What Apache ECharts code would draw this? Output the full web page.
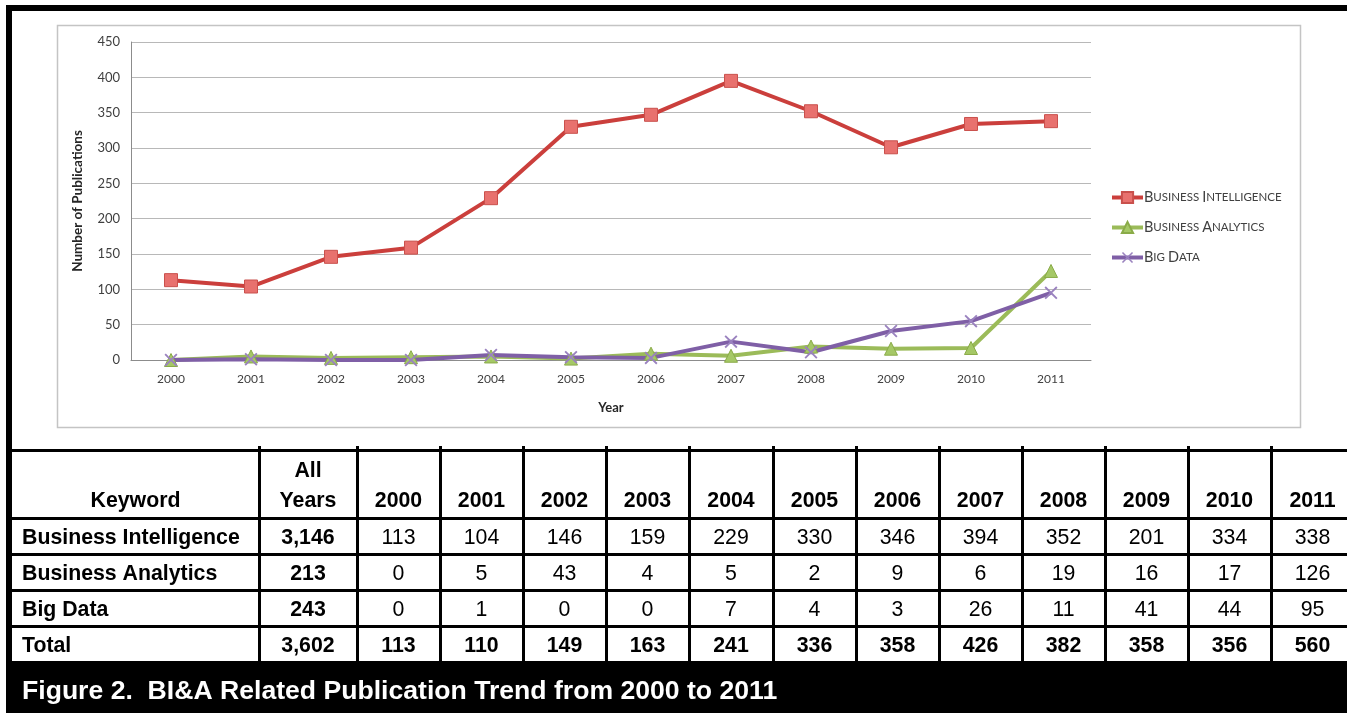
<!DOCTYPE html>
<html>
<head>
<meta charset="utf-8">
<script src="https://cdn.jsdelivr.net/npm/echarts@6/dist/echarts.min.js"></script>
<style>
html,body{margin:0;padding:0;background:#fff}
#main{width:1347px;height:713px}
</style>
</head>
<body>
<div id="main"></div>
<script>
var years = ['2000','2001','2002','2003','2004','2005','2006','2007','2008','2009','2010','2011'];

// values as the chart draws them
var biLine = [113, 104, 146, 159, 229, 330, 347, 395, 352, 301, 334, 338];
var baLine = [0, 5, 3, 4, 5, 2, 9, 6, 19, 16, 17, 126];
var bdLine = [0, 1, 0, 0, 7, 4, 3, 26, 11, 41, 55, 95];

// values as the table prints them
var keywords = ['Business Intelligence', 'Business Analytics', 'Big Data', 'Total'];
var allYears = ['3,146', '213', '243', '3,602'];
var biRow = [113, 104, 146, 159, 229, 330, 346, 394, 352, 201, 334, 338];
var baRow = [0, 5, 43, 4, 5, 2, 9, 6, 19, 16, 17, 126];
var bdRow = [0, 1, 0, 0, 7, 4, 3, 26, 11, 41, 44, 95];
var totalRow = [113, 110, 149, 163, 241, 336, 358, 426, 382, 358, 356, 560];

var caption = 'Figure 2.  BI&A Related Publication Trend from 2000 to 2011';

var myChart = echarts.init(document.getElementById('main'));

// excel style small caps for the legend
function smallCaps(s) {
	return s.split(' ').map(function (w) {
		return '{a|' + w.charAt(0) + '}{b|' + w.slice(1).toUpperCase() + '}';
	}).join('{b| }');
}

var xMark = 'path://M0,1L1,0L5,4L9,0L10,1L6,5L10,9L9,10L5,6L1,10L0,9L4,5Z';

// table layout
var colX = [12, 259, 357];
for (var i = 0; i < years.length; i++) colX.push(Math.round(357 + 83.1 * (i + 1)));
var rowY = [450, 518, 554, 590, 626, 661];
var tFont = '21.3px "Liberation Sans", Arial, sans-serif';
var tBold = 'bold 21.3px "Liberation Sans", Arial, sans-serif';

var g = [];
// outer black frame
g.push({type: 'rect', shape: {x: 6, y: 5, width: 1341, height: 6}, style: {fill: '#000'}});
g.push({type: 'rect', shape: {x: 6, y: 5, width: 6, height: 708}, style: {fill: '#000'}});
g.push({type: 'rect', shape: {x: 6, y: 661, width: 1341, height: 52}, style: {fill: '#000'}});
// chart area border
g.push({type: 'rect', shape: {x: 57.5, y: 25.5, width: 1243, height: 402}, style: {fill: 'none', stroke: '#c4c4c4', lineWidth: 1.5}});
// table lines
for (var r = 0; r < rowY.length - 1; r++) {
	g.push({type: 'rect', shape: {x: 12, y: rowY[r] - 1, width: 1335, height: 3}, style: {fill: '#000'}});
}
for (var c = 1; c < colX.length; c++) {
	g.push({type: 'rect', shape: {x: colX[c] - 1, y: 446, width: 3, height: 215}, style: {fill: '#000'}});
}
function cell(txt, cx, cy, bold, align) {
	g.push({type: 'text', style: {text: String(txt), x: cx, y: cy, font: bold ? tBold : tFont, fill: '#000',
		textAlign: align || 'center', textVerticalAlign: 'middle'}});
}
// header
cell('Keyword', (colX[0] + colX[1]) / 2, 501, true);
cell('All', (colX[1] + colX[2]) / 2, 471, true);
cell('Years', (colX[1] + colX[2]) / 2, 501, true);
for (var k = 0; k < years.length; k++) {
	var right = k + 3 < colX.length ? colX[k + 3] : 1353;
	cell(years[k], (colX[k + 2] + right) / 2, 501, true);
}
var rows = [biRow, baRow, bdRow, totalRow];
for (var r2 = 0; r2 < rows.length; r2++) {
	var cy = (rowY[r2 + 1] + rowY[r2 + 2]) / 2 + 2.5;
	cell(keywords[r2], 22, cy, true, 'left');
	cell(allYears[r2], (colX[1] + colX[2]) / 2, cy, true);
	for (var k2 = 0; k2 < years.length; k2++) {
		var rr = k2 + 3 < colX.length ? colX[k2 + 3] : 1353;
		cell(rows[r2][k2], (colX[k2 + 2] + rr) / 2, cy, r2 === 3);
	}
}
// caption
g.push({type: 'text', style: {text: caption, x: 22, y: 692, font: 'bold 26.6px "Liberation Sans", Arial, sans-serif',
	fill: '#fff', textAlign: 'left', textVerticalAlign: 'middle'}});

var lato = 'Lato, "Open Sans", sans-serif';

var opt = {
	backgroundColor: '#fff',
	animation: false,
	grid: {left: 131, right: 256, top: 42, bottom: 353},
	legend: {
		orient: 'vertical',
		left: 1105,
		top: 185,
		itemWidth: 31,
		itemHeight: 14,
		itemGap: 15,
		lineStyle: {width: 4},
		formatter: function (name) { return smallCaps(name); },
		textStyle: {
			padding: [0, 0, 0, -4],
			rich: {
				a: {fontSize: 14.5, color: '#404040', fontFamily: lato, lineHeight: 14},
				b: {fontSize: 11.5, color: '#404040', fontFamily: lato, lineHeight: 14}
			}
		},
		data: ['Business Intelligence', 'Business Analytics', 'Big Data']
	},
	xAxis: {
		type: 'category',
		data: years,
		boundaryGap: true,
		name: 'Year',
		nameLocation: 'middle',
		nameGap: 41,
		nameTextStyle: {fontFamily: lato, fontWeight: 'bold', fontSize: 13, color: '#262626'},
		axisLine: {lineStyle: {color: '#8c8c8c'}},
		axisTick: {show: false},
		axisLabel: {fontFamily: lato, fontSize: 12, color: '#404040', margin: 13}
	},
	yAxis: {
		type: 'value',
		min: 0,
		max: 450,
		interval: 50,
		name: 'Number of Publications',
		nameLocation: 'middle',
		nameGap: 46,
		nameTextStyle: {fontFamily: lato, fontWeight: 'bold', fontSize: 13.5, color: '#262626'},
		axisLine: {show: true, lineStyle: {color: '#8c8c8c'}},
		axisTick: {show: false},
		axisLabel: {fontFamily: lato, fontSize: 13, color: '#404040', margin: 11},
		splitLine: {lineStyle: {color: '#b8b8b8', width: 1}}
	},
	graphic: {elements: g},
	series: [
		{
			name: 'Business Intelligence',
			type: 'line',
			data: biLine,
			symbol: 'rect',
			symbolSize: 13,
			showAllSymbol: true,
			lineStyle: {color: '#cb3f3c', width: 4},
			itemStyle: {color: '#e8716e', borderColor: '#c9504c', borderWidth: 1}
		},
		{
			name: 'Business Analytics',
			type: 'line',
			data: baLine,
			symbol: 'triangle',
			symbolSize: 13,
			showAllSymbol: true,
			lineStyle: {color: '#9bbb59', width: 4},
			itemStyle: {color: '#a5c866', borderColor: '#8aab48', borderWidth: 1}
		},
		{
			name: 'Big Data',
			type: 'line',
			data: bdLine,
			symbol: xMark,
			symbolSize: 13,
			showAllSymbol: true,
			lineStyle: {color: '#7f5fa6', width: 4},
			itemStyle: {color: '#9a82bf'}
		}
	]
};
myChart.setOption(opt);
</script>
</body>
</html>
